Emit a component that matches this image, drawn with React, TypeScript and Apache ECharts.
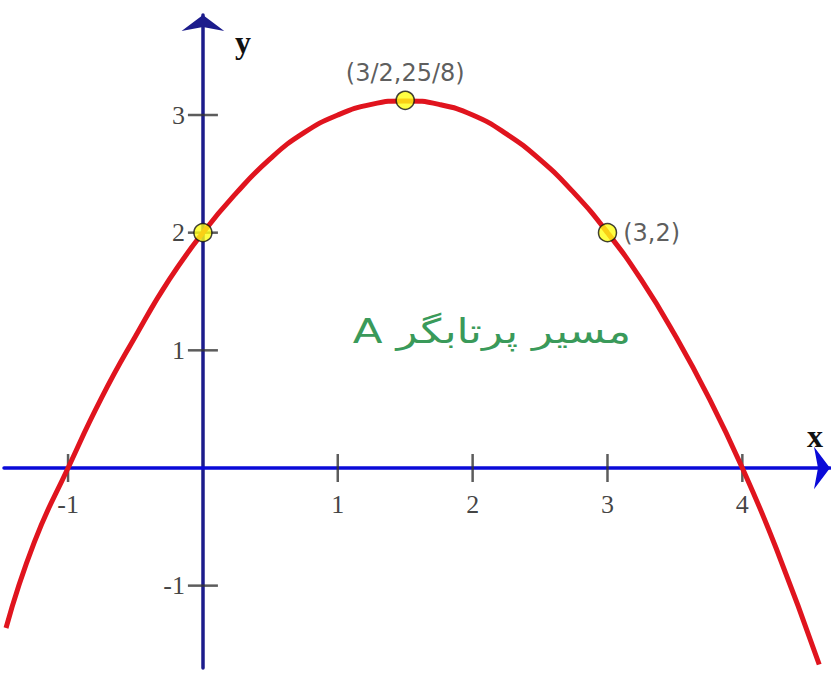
import React, { useEffect, useRef } from 'react';
import * as echarts from 'echarts';

// Curve of the projectile path
const curveX = [-1.46, -1.25, -1, -0.75, -0.5, -0.25, 0, 0.25, 0.5, 0.75, 1, 1.25, 1.5, 1.75, 2, 2.25, 2.5, 2.75, 3, 3.25, 3.5, 3.75, 4, 4.25, 4.57];
const curveY = [-1.36, -0.63, 0, 0.6, 1.12, 1.6, 2, 2.34, 2.63, 2.85, 3, 3.09, 3.12, 3.09, 3, 2.84, 2.62, 2.34, 2, 1.6, 1.13, 0.6, 0, -0.68, -1.67];

// Marked points
const pointX = [0, 1.5, 3];
const pointY = [2, 3.125, 2];
const pointLabels = ['', '(3/2,25/8)', '(3,2)'];
const pointLabelPos = ['top', 'top', 'right'];

// Tick labels
const xTickValues = [-1, 1, 2, 3, 4];
const yTickValues = [-1, 1, 2, 3];

const xAxisName = 'x';
const yAxisName = 'y';
const captionText = 'A مسیر پرتابگر';

export default function App() {
  const ref = useRef<HTMLDivElement>(null);
  useEffect(() => {
    if (!ref.current) return;
    const chart = echarts.init(ref.current, undefined, { renderer: 'svg' });
    const labelFont = { fontFamily: 'Liberation Serif', fontSize: 26, color: '#111' };
    chart.setOption({
      animation: false,
      backgroundColor: '#ffffff',
      grid: { left: 4, right: 1, top: 15, bottom: 14, containLabel: false, outerBoundsMode: 'none' },
      xAxis: {
        type: 'value',
        min: -1.475,
        max: 4.65,
        interval: 0.025,
        axisLine: {
          onZero: true,
          symbol: ['none', 'arrow'],
          symbolSize: [32, 16],
          symbolOffset: [0, 0],
          lineStyle: { color: '#0a0ad8', width: 3.5 },
        },
        axisTick: { show: false },
        splitLine: { show: false },
        axisLabel: { show: false },
      },
      yAxis: {
        type: 'value',
        min: -1.7,
        max: 3.85,
        interval: 0.1,
        axisLine: {
          onZero: true,
          symbol: ['none', 'arrow'],
          symbolSize: [32, 16],
          symbolOffset: [0, 0],
          lineStyle: { color: '#1c1c8c', width: 3.5 },
        },
        axisTick: { show: false },
        splitLine: { show: false },
        axisLabel: { show: false },
      },
      graphic: [
        {
          type: 'text',
          x: 243,
          y: 42,
          style: {
            text: yAxisName,
            font: 'bold 32px "Liberation Serif"',
            fill: '#111',
            align: 'center',
            verticalAlign: 'middle',
          },
        },
        {
          type: 'text',
          x: 815,
          y: 436,
          style: {
            text: xAxisName,
            font: 'bold 32px "Liberation Serif"',
            fill: '#111',
            align: 'center',
            verticalAlign: 'middle',
          },
        },
        {
          type: 'text',
          x: 492,
          y: 331,
          scaleX: 1.28,
          style: {
            text: captionText,
            font: '34px "DejaVu Sans"',
            fill: '#3a9a5a',
            align: 'center',
            verticalAlign: 'middle',
          },
        },
      ],
      series: [
        {
          type: 'scatter',
          z: 1,
          symbol: 'rect',
          symbolSize: [2.5, 28],
          itemStyle: { color: '#333' },
          silent: true,
          label: {
            show: true,
            position: 'bottom',
            distance: 10,
            ...labelFont,
            formatter: (p: any) => String(p.value[0]),
          },
          data: xTickValues.map((t) => [t, 0]),
        },
        {
          type: 'scatter',
          z: 1,
          symbol: 'rect',
          symbolSize: [30, 2.5],
          itemStyle: { color: '#333' },
          silent: true,
          label: {
            show: true,
            position: 'left',
            distance: 3,
            ...labelFont,
            formatter: (p: any) => String(p.value[1]),
          },
          data: yTickValues.map((t) => [0, t]),
        },
        {
          type: 'line',
          z: 3,
          smooth: true,
          showSymbol: false,
          clip: false,
          lineStyle: { color: '#e0141e', width: 5 },
          data: curveX.map((x, i) => [x, curveY[i]]),
        },
        {
          type: 'scatter',
          z: 4,
          symbol: 'circle',
          symbolSize: 18,
          itemStyle: { color: '#ffff14', borderColor: '#111', borderWidth: 1.5 },
          data: pointX.map((x, i) => ({
            value: [x, pointY[i]],
            label: {
              show: pointLabels[i] !== '',
              formatter: pointLabels[i],
              position: pointLabelPos[i],
              distance: 6,
              fontFamily: 'DejaVu Sans',
              fontSize: 24,
              color: '#333',
            },
          })),
        },
      ],
    });
    return () => chart.dispose();
  }, []);
  return (
    <div
      ref={ref}
      style={{ position: 'fixed', left: 0, top: 0, width: 831, height: 682, background: '#fff' }}
    />
  );
}
